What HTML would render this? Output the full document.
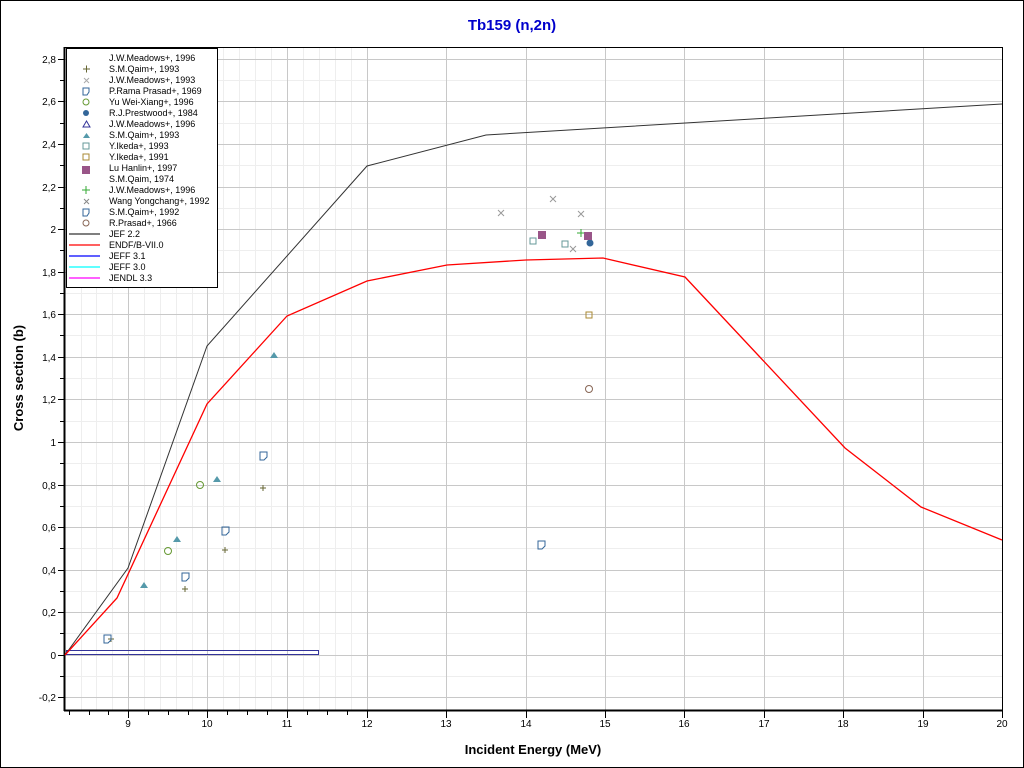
<!DOCTYPE html>
<html><head><meta charset="utf-8"><style>
body{margin:0;background:#fff;width:1024px;height:768px;overflow:hidden}
svg{display:block;font-family:"Liberation Sans",sans-serif}
</style></head><body>
<svg width="1024" height="768" viewBox="0 0 1024 768">
<rect x="0.5" y="0.5" width="1023" height="767" fill="#fff" stroke="#000"/>
<text x="512" y="30" text-anchor="middle" font-size="15" font-weight="bold" fill="#0000cc">Tb159 (n,2n)</text>
<g stroke="#eeeeee" stroke-width="1">
<line x1="81.5" y1="47" x2="81.5" y2="710"/><line x1="96.5" y1="47" x2="96.5" y2="710"/><line x1="112.5" y1="47" x2="112.5" y2="710"/>
<line x1="144.5" y1="47" x2="144.5" y2="710"/><line x1="160.5" y1="47" x2="160.5" y2="710"/><line x1="176.5" y1="47" x2="176.5" y2="710"/><line x1="192.5" y1="47" x2="192.5" y2="710"/>
<line x1="223.5" y1="47" x2="223.5" y2="710"/><line x1="239.5" y1="47" x2="239.5" y2="710"/><line x1="255.5" y1="47" x2="255.5" y2="710"/><line x1="271.5" y1="47" x2="271.5" y2="710"/>
<line x1="303.5" y1="47" x2="303.5" y2="710"/><line x1="319.5" y1="47" x2="319.5" y2="710"/><line x1="335.5" y1="47" x2="335.5" y2="710"/><line x1="351.5" y1="47" x2="351.5" y2="710"/>
<line x1="65" y1="676.5" x2="1002" y2="676.5"/><line x1="65" y1="633.5" x2="1002" y2="633.5"/><line x1="65" y1="591.5" x2="1002" y2="591.5"/><line x1="65" y1="548.5" x2="1002" y2="548.5"/>
<line x1="65" y1="506.5" x2="1002" y2="506.5"/><line x1="65" y1="463.5" x2="1002" y2="463.5"/><line x1="65" y1="421.5" x2="1002" y2="421.5"/><line x1="65" y1="378.5" x2="1002" y2="378.5"/>
<line x1="65" y1="335.5" x2="1002" y2="335.5"/><line x1="65" y1="293.5" x2="1002" y2="293.5"/><line x1="65" y1="250.5" x2="1002" y2="250.5"/><line x1="65" y1="208.5" x2="1002" y2="208.5"/>
<line x1="65" y1="165.5" x2="1002" y2="165.5"/><line x1="65" y1="123.5" x2="1002" y2="123.5"/><line x1="65" y1="80.5" x2="1002" y2="80.5"/>
</g>
<g stroke="#c8c8c8" stroke-width="1">
<line x1="128.5" y1="47" x2="128.5" y2="710"/><line x1="207.5" y1="47" x2="207.5" y2="710"/><line x1="287.5" y1="47" x2="287.5" y2="710"/><line x1="367.5" y1="47" x2="367.5" y2="710"/>
<line x1="446.5" y1="47" x2="446.5" y2="710"/><line x1="526.5" y1="47" x2="526.5" y2="710"/><line x1="605.5" y1="47" x2="605.5" y2="710"/><line x1="684.5" y1="47" x2="684.5" y2="710"/>
<line x1="764.5" y1="47" x2="764.5" y2="710"/><line x1="843.5" y1="47" x2="843.5" y2="710"/><line x1="923.5" y1="47" x2="923.5" y2="710"/>
<line x1="65" y1="697.5" x2="1002" y2="697.5"/><line x1="65" y1="655.5" x2="1002" y2="655.5"/><line x1="65" y1="612.5" x2="1002" y2="612.5"/><line x1="65" y1="570.5" x2="1002" y2="570.5"/>
<line x1="65" y1="527.5" x2="1002" y2="527.5"/><line x1="65" y1="485.5" x2="1002" y2="485.5"/><line x1="65" y1="442.5" x2="1002" y2="442.5"/><line x1="65" y1="399.5" x2="1002" y2="399.5"/>
<line x1="65" y1="357.5" x2="1002" y2="357.5"/><line x1="65" y1="314.5" x2="1002" y2="314.5"/><line x1="65" y1="272.5" x2="1002" y2="272.5"/><line x1="65" y1="229.5" x2="1002" y2="229.5"/>
<line x1="65" y1="187.5" x2="1002" y2="187.5"/><line x1="65" y1="144.5" x2="1002" y2="144.5"/><line x1="65" y1="101.5" x2="1002" y2="101.5"/><line x1="65" y1="59.5" x2="1002" y2="59.5"/>
</g>
<rect x="64.5" y="47.5" width="938" height="663" fill="none" stroke="#000"/>
<line x1="64.5" y1="47" x2="64.5" y2="711" stroke="#000" stroke-width="2"/>
<line x1="64" y1="710.5" x2="1003" y2="710.5" stroke="#000" stroke-width="2"/>
<g stroke="#000">
<path d="M128.5 710v8M207.5 710v8M287.5 710v8M367.5 710v8M446.5 710v8M526.5 710v8M605.5 710v8M684.5 710v8M764.5 710v8M843.5 710v8M923.5 710v8M1002.5 710v8"/>
<path d="M69.5 710v5M89.5 710v5M108.5 710v5M148.5 710v5M168.5 710v5M188.5 710v5M227.5 710v5M247.5 710v5M267.5 710v5M307.5 710v5M327.5 710v5M347.5 710v5"/>
<path d="M58 697.5h6M58 655.5h6M58 612.5h6M58 570.5h6M58 527.5h6M58 485.5h6M58 442.5h6M58 399.5h6M58 357.5h6M58 314.5h6M58 272.5h6M58 229.5h6M58 187.5h6M58 144.5h6M58 101.5h6M58 59.5h6"/>
<path d="M60 676.5h4M60 633.5h4M60 591.5h4M60 548.5h4M60 506.5h4M60 463.5h4M60 421.5h4M60 378.5h4M60 335.5h4M60 293.5h4M60 250.5h4M60 208.5h4M60 165.5h4M60 123.5h4M60 80.5h4"/>
</g>
<g font-size="10" text-anchor="middle">
<text x="128" y="727">9</text><text x="207" y="727">10</text><text x="287" y="727">11</text><text x="367" y="727">12</text><text x="446" y="727">13</text><text x="526" y="727">14</text><text x="605" y="727">15</text><text x="684" y="727">16</text><text x="764" y="727">17</text><text x="843" y="727">18</text><text x="923" y="727">19</text><text x="1002" y="727">20</text>
</g>
<g font-size="10" text-anchor="end">
<text x="56" y="701">-0,2</text><text x="56" y="659">0</text><text x="56" y="616">0,2</text><text x="56" y="574">0,4</text><text x="56" y="531">0,6</text><text x="56" y="489">0,8</text><text x="56" y="446">1</text><text x="56" y="403">1,2</text><text x="56" y="361">1,4</text><text x="56" y="318">1,6</text><text x="56" y="276">1,8</text><text x="56" y="233">2</text><text x="56" y="191">2,2</text><text x="56" y="148">2,4</text><text x="56" y="105">2,6</text><text x="56" y="63">2,8</text>
</g>
<text x="533" y="754" text-anchor="middle" font-size="13" font-weight="bold">Incident Energy (MeV)</text>
<text transform="translate(23,378) rotate(-90)" text-anchor="middle" font-size="13" font-weight="bold">Cross section (b)</text>
<rect x="66.5" y="650.5" width="252" height="4" fill="none" stroke="#333399"/>
<polyline fill="none" stroke="#333" stroke-width="1" points="65,655 128,568 207,346 367,166 486,135 1002,104"/>
<polyline fill="none" stroke="#ff0000" stroke-width="1.3" points="65,655 117,598 207,404 287,316 367,281 447,265 526,260 603,258 685,277 845,448 921,507 1002,540"/>
<g fill="none" stroke-width="1">
<path d="M108 639h6M111 636v6M182 589h6M185 586v6M222 550h6M225 547v6M260 488h6M263 485v6" stroke="#666633"/>
<path d="M104 635h7v5l-3 3h-4z M182 573h7v5l-3 3h-4z M222 527h7v5l-3 3h-4z M260 452h7v5l-3 3h-4z M538 541h7v5l-3 3h-4z" stroke="#336699"/>
<circle cx="168" cy="551" r="3.5" stroke="#669933"/><circle cx="200" cy="485" r="3.5" stroke="#669933"/>
<path d="M498 210l6 6M504 210l-6 6M550 196l6 6M556 196l-6 6M578 211l6 6M584 211l-6 6M570 246l6 6M576 246l-6 6" stroke="#999"/>
<path d="M577 233h8M581 229v8" stroke="#33aa33"/>
<rect x="530" y="238" width="6" height="6" stroke="#669999"/><rect x="562" y="241" width="6" height="6" stroke="#669999"/>
<rect x="586" y="312" width="6" height="6" stroke="#aa8833"/>
<circle cx="589" cy="389" r="3.5" stroke="#886655"/>
</g>
<g fill="#5599aa">
<path d="M140 588l4-6 4 6z M173 542l4-6 4 6z M213 482l4-6 4 6z M270 358l4-6 4 6z"/>
<circle cx="590" cy="243" r="3.5" fill="#336699"/>
</g>
<rect x="538" y="231" width="8" height="8" fill="#995588"/><rect x="584" y="232" width="8" height="8" fill="#995588"/>
<rect x="66.5" y="48.5" width="151" height="239" fill="#fff" stroke="#000"/>
<g font-size="9" fill="#000">
<text x="109" y="61">J.W.Meadows+, 1996</text>
<text x="109" y="72">S.M.Qaim+, 1993</text>
<text x="109" y="83">J.W.Meadows+, 1993</text>
<text x="109" y="94">P.Rama Prasad+, 1969</text>
<text x="109" y="105">Yu Wei-Xiang+, 1996</text>
<text x="109" y="116">R.J.Prestwood+, 1984</text>
<text x="109" y="127">J.W.Meadows+, 1996</text>
<text x="109" y="138">S.M.Qaim+, 1993</text>
<text x="109" y="149">Y.Ikeda+, 1993</text>
<text x="109" y="160">Y.Ikeda+, 1991</text>
<text x="109" y="171">Lu Hanlin+, 1997</text>
<text x="109" y="182">S.M.Qaim, 1974</text>
<text x="109" y="193">J.W.Meadows+, 1996</text>
<text x="109" y="204">Wang Yongchang+, 1992</text>
<text x="109" y="215">S.M.Qaim+, 1992</text>
<text x="109" y="226">R.Prasad+, 1966</text>
<text x="109" y="237">JEF 2.2</text>
<text x="109" y="248">ENDF/B-VII.0</text>
<text x="109" y="259">JEFF 3.1</text>
<text x="109" y="270">JEFF 3.0</text>
<text x="109" y="281">JENDL 3.3</text>
</g>
<g fill="none" stroke-width="1">
<path d="M83 69h7M86.5 65.5v7" stroke="#666633"/>
<path d="M84 78l5 5M89 78l-5 5" stroke="#aaa"/>
<path d="M83 88h6v4l-2 3h-4z" stroke="#336699"/>
<circle cx="86" cy="102" r="3" stroke="#669933"/>
<path d="M83 127l3.5-6 3.5 6z" stroke="#333399"/>
<rect x="83" y="143" width="6" height="6" stroke="#669999"/>
<rect x="83" y="154" width="6" height="6" stroke="#aa8833"/>
<path d="M82 190h8M86 186v8" stroke="#33aa33"/>
<path d="M84 199l5 5M89 199l-5 5" stroke="#888"/>
<path d="M83 209h6v4l-2 3h-4z" stroke="#336699"/>
<circle cx="86" cy="223" r="3" stroke="#886655"/>
</g>
<circle cx="86" cy="113" r="3" fill="#336699"/>
<path d="M83 138l3.5-5 3.5 5z" fill="#5599aa"/>
<rect x="82" y="166" width="8" height="8" fill="#995588"/>
<g stroke-width="1.3">
<line x1="69" y1="234" x2="100" y2="234" stroke="#333"/>
<line x1="69" y1="245" x2="100" y2="245" stroke="#f00"/>
<line x1="69" y1="256" x2="100" y2="256" stroke="#00f"/>
<line x1="69" y1="267" x2="100" y2="267" stroke="#0ff"/>
<line x1="69" y1="278" x2="100" y2="278" stroke="#f0f"/>
</g>
</svg>
</body></html>
